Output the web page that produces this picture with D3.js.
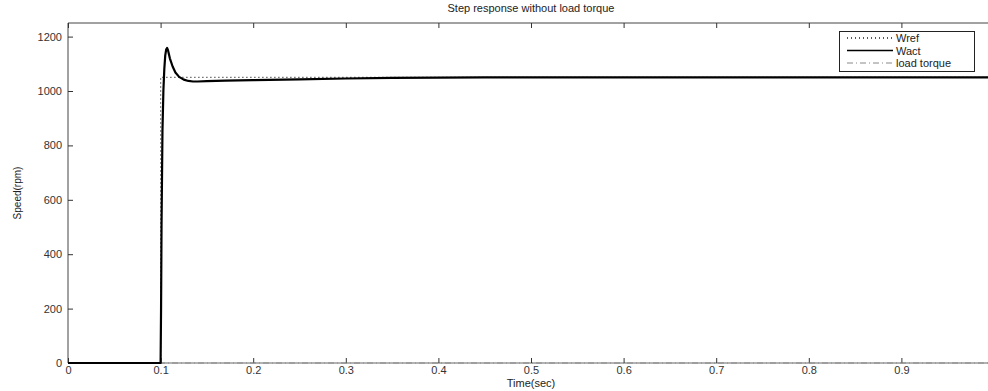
<!DOCTYPE html>
<html><head><meta charset="utf-8">
<script src="https://cdn.jsdelivr.net/npm/d3@7"></script>
<style>body{margin:0;background:#fff;} svg{display:block;font-family:"Liberation Sans",Arial,sans-serif;}</style>
</head><body>
<svg id="c" width="988" height="391"></svg>
<script>
const title = "Step response without load torque";
const xLabel = "Time(sec)";
const yLabel = "Speed(rpm)";
const xTicks = [0,0.1,0.2,0.3,0.4,0.5,0.6,0.7,0.8,0.9];
const yTicks = [0,200,400,600,800,1000,1200];
const seriesNames = ["Wref","Wact","load torque"];
const wrefT = [0,0.1,0.1,1.0];
const wrefV = [0,0,1050,1050];
const wactT = [0,0.1,0.1005,0.101,0.102,0.103,0.104,0.105,0.106,0.107,0.108,0.110,0.113,0.116,0.120,0.125,0.130,0.135,0.140,0.150,0.170,0.200,0.250,0.300,0.350,0.400,0.450,1.0];
const wactV = [0,0,200,500,850,1000,1080,1130,1152,1158,1150,1120,1090,1068,1052,1042,1037,1035,1035,1036,1038,1040,1043,1046,1048,1049,1050,1050];
const loadT = [0,1.0];
const loadV = [0,0];

const svg = d3.select("#c");
const m = {l:68, t:23, r:994, b:363};
const x = d3.scaleLinear().domain([0,1]).range([m.l,m.r]);
const y = d3.scaleLinear().domain([0,1250]).range([m.b,m.t]);

const axCol = "#444";
svg.append("line").attr("x1",m.l).attr("x2",m.r).attr("y1",m.t).attr("y2",m.t).attr("stroke",axCol);
svg.append("line").attr("x1",m.l).attr("x2",m.r).attr("y1",m.b).attr("y2",m.b).attr("stroke","#666");
svg.append("line").attr("x1",m.l).attr("x2",m.l).attr("y1",m.t).attr("y2",m.b).attr("stroke",axCol);
svg.append("line").attr("x1",m.r).attr("x2",m.r).attr("y1",m.t).attr("y2",m.b).attr("stroke",axCol);

const xb = svg.append("g").attr("transform",`translate(0,${m.b})`)
  .call(d3.axisBottom(x).tickValues(xTicks).tickSize(-5).tickPadding(4).tickFormat(d3.format("")));
const xt = svg.append("g").attr("transform",`translate(0,${m.t})`)
  .call(d3.axisTop(x).tickValues(xTicks).tickSize(-5).tickFormat(""));
const yl = svg.append("g").attr("transform",`translate(${m.l},0)`)
  .call(d3.axisLeft(y).tickValues(yTicks).tickSize(-5).tickPadding(6).tickFormat(d3.format("d")));
const yr = svg.append("g").attr("transform",`translate(${m.r},0)`)
  .call(d3.axisRight(y).tickValues(yTicks).tickSize(-5).tickFormat(""));
[xb,xt,yl,yr].forEach(g=>{
  g.select(".domain").remove();
  g.selectAll(".tick line").attr("stroke","#333");
  g.selectAll("text").attr("fill","#333").style("font-size","11px");
});
xb.selectAll("text").attr("dy","0.6em");

const line = d3.line().x(d=>x(d[0])).y(d=>y(d[1]));
svg.append("path").datum(loadT.map((t,i)=>[t,loadV[i]])).attr("d",line)
  .attr("fill","none").attr("stroke","#888").attr("stroke-width",1).attr("stroke-dasharray","6,3,1,3");
svg.append("path").datum(wrefT.map((t,i)=>[t,wrefV[i]])).attr("d",line)
  .attr("fill","none").attr("stroke","#222").attr("stroke-width",1.3).attr("stroke-dasharray","1,3");
svg.append("path").datum(wactT.map((t,i)=>[t,wactV[i]])).attr("d",line)
  .attr("fill","none").attr("stroke","#000").attr("stroke-width",2.2).attr("stroke-linejoin","round");

svg.append("text").attr("x",(m.l+m.r)/2).attr("y",12).attr("text-anchor","middle")
  .style("font-size","11px").attr("fill","#222").text(title);
svg.append("text").attr("x",(m.l+m.r)/2).attr("y",387).attr("text-anchor","middle")
  .style("font-size","11px").attr("fill","#222").text(xLabel);
svg.append("text").attr("transform",`translate(21,${(m.t+m.b)/2}) rotate(-90)`).attr("text-anchor","middle")
  .style("font-size","10px").attr("fill","#222").text(yLabel);

const lg = svg.append("g");
lg.append("rect").attr("x",839.5).attr("y",31.5).attr("width",135).attr("height",40)
  .attr("fill","#fff").attr("stroke","#222");
const styles = [
  {dash:"1,3",w:1.3,c:"#222"},
  {dash:null,w:1.5,c:"#000"},
  {dash:"6,3,1,3",w:1,c:"#888"}
];
seriesNames.forEach((n,i)=>{
  const yy = 38 + i*12.5;
  lg.append("line").attr("x1",847).attr("x2",893).attr("y1",yy).attr("y2",yy)
    .attr("stroke",styles[i].c).attr("stroke-width",styles[i].w).attr("stroke-dasharray",styles[i].dash);
  lg.append("text").attr("x",896).attr("y",yy+4).style("font-size","11px").attr("fill","#222").text(n);
});
</script>
</body></html>
